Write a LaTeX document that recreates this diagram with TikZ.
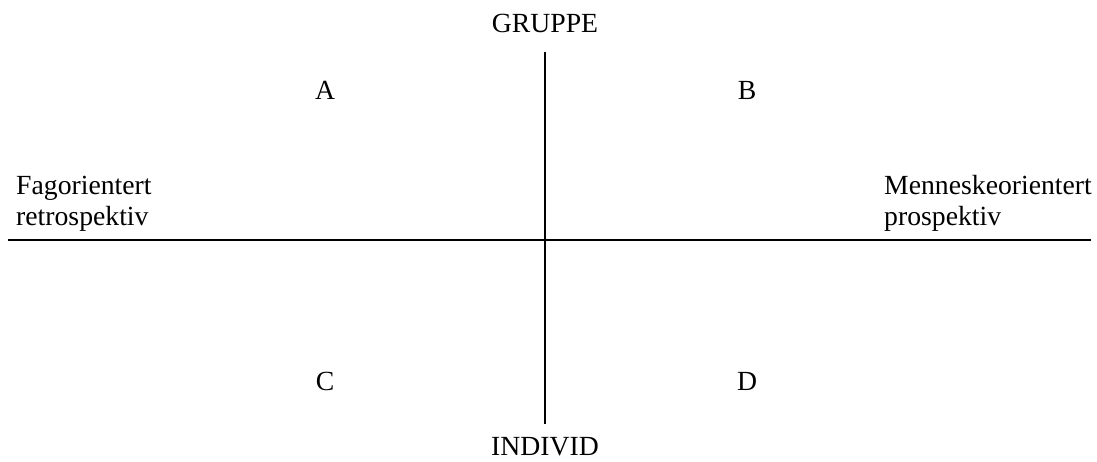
\documentclass[tikz,border=0pt]{standalone}
\usepackage{fontspec}
\setmainfont{Liberation Serif}
\begin{document}
\begin{tikzpicture}[x=1pt,y=-1pt,
  lbl/.style={font=\fontsize{27.7}{31}\selectfont, inner sep=0pt, anchor=base},
  lbll/.style={lbl, anchor=base west},
  axis/.style={line width=1.6pt, black}]
\useasboundingbox (0,0) rectangle (1097,461);
\coordinate (top) at (545,52);
\coordinate (bot) at (545,424);
\coordinate (left) at (8,240);
\coordinate (right) at (1091,240);
\draw[axis] (top) -- (bot);
\draw[axis] (left) -- (right);
\node[lbl] (gruppe) at (545,32) {GRUPPE};
\node[lbl] (individ) at (545,455) {INDIVID};
\node[lbl] (a) at (325,99) {A};
\node[lbl] (b) at (747,99) {B};
\node[lbl] (c) at (325,390) {C};
\node[lbl] (d) at (747,390) {D};
\node[lbll] (fag1) at (16,194) {Fagorientert};
\node[lbll] (fag2) at (16,225) {retrospektiv};
\node[lbll] (men1) at (884,194) {Menneskeorientert};
\node[lbll] (men2) at (884,225) {prospektiv};
\end{tikzpicture}
\end{document}
